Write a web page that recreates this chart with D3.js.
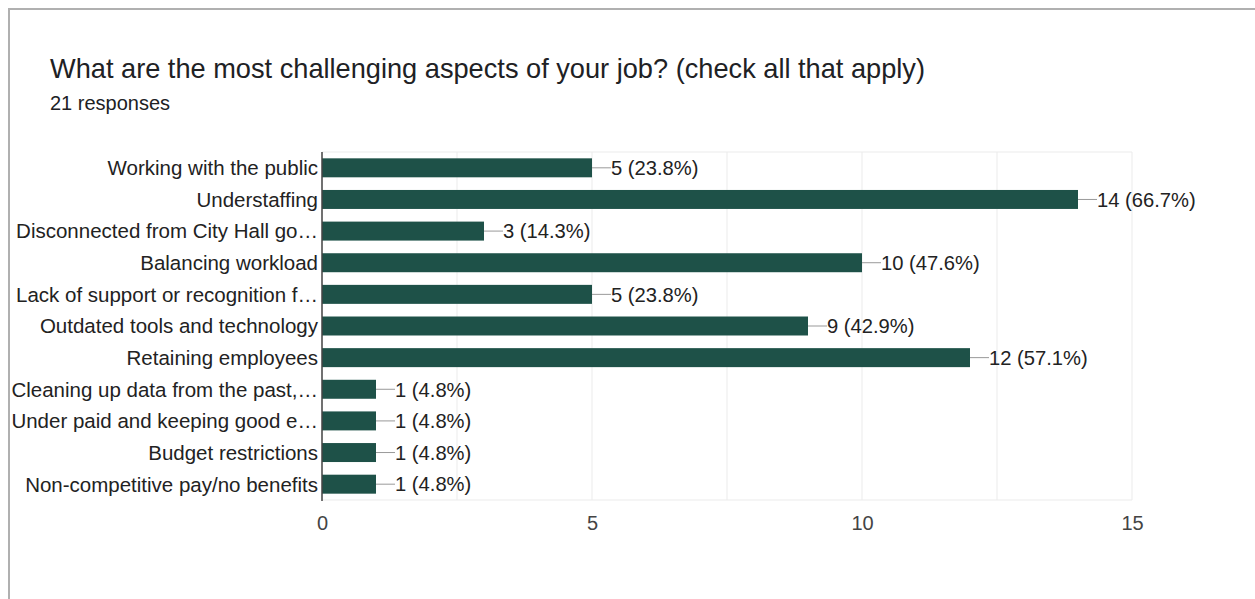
<!DOCTYPE html>
<html>
<head>
<meta charset="utf-8">
<script src="https://cdn.jsdelivr.net/npm/d3@7"></script>
<style>
  html, body { margin: 0; padding: 0; background: #fff; }
  svg { display: block; }
</style>
</head>
<body>
<svg id="chart" width="1255" height="599"></svg>
<script>
// Survey responses per challenge
const categories = [
  "Working with the public",
  "Understaffing",
  "Disconnected from City Hall go\u2026",
  "Balancing workload",
  "Lack of support or recognition f\u2026",
  "Outdated tools and technology",
  "Retaining employees",
  "Cleaning up data from the past,\u2026",
  "Under paid and keeping good e\u2026",
  "Budget restrictions",
  "Non-competitive pay/no benefits"
];
const counts = [5, 14, 3, 10, 5, 9, 12, 1, 1, 1, 1];
const percents = ["23.8%", "66.7%", "14.3%", "47.6%", "23.8%", "42.9%", "57.1%", "4.8%", "4.8%", "4.8%", "4.8%"];
const xTicks = [0, 5, 10, 15];
const gridValues = [0, 2.5, 5, 7.5, 10, 12.5, 15];

const svg = d3.select("#chart");
const font = "'Liberation Sans', Arial, Helvetica, sans-serif";

// Card outline
svg.append("path")
  .attr("d", "M9,599 V9 H1255")
  .attr("fill", "none")
  .attr("stroke", "#b0b0b0")
  .attr("stroke-width", 2);

svg.append("text")
  .attr("x", 50).attr("y", 78)
  .attr("font-family", font)
  .attr("font-size", 27.2)
  .attr("fill", "#202124")
  .text("What are the most challenging aspects of your job? (check all that apply)");

svg.append("text")
  .attr("x", 50).attr("y", 110)
  .attr("font-family", font)
  .attr("font-size", 20)
  .attr("fill", "#202124")
  .text("21 responses");

const plotLeft = 322, plotRight = 1132, plotTop = 152, plotBottom = 500;

const x = d3.scaleLinear().domain([0, 15]).range([plotLeft, plotRight]);
const y = d3.scaleBand().domain(categories).range([plotTop, plotBottom]).paddingInner(0.4).paddingOuter(0.2);

// Grid
svg.append("g").selectAll("line")
  .data(gridValues)
  .join("line")
  .attr("x1", d => x(d)).attr("x2", d => x(d))
  .attr("y1", plotTop).attr("y2", plotBottom)
  .attr("stroke", "#ebebeb").attr("stroke-width", 1);
svg.append("line")
  .attr("x1", plotLeft).attr("x2", plotRight)
  .attr("y1", plotTop).attr("y2", plotTop)
  .attr("stroke", "#ebebeb");
svg.append("line")
  .attr("x1", plotLeft).attr("x2", plotRight)
  .attr("y1", plotBottom).attr("y2", plotBottom)
  .attr("stroke", "#ebebeb");

// Bars
svg.append("g").selectAll("rect")
  .data(categories)
  .join("rect")
  .attr("x", x(0))
  .attr("y", d => y(d))
  .attr("width", (d, i) => x(counts[i]) - x(0))
  .attr("height", y.bandwidth())
  .attr("fill", "#1e5148");

// Leader lines and value labels
const lab = svg.append("g");
lab.selectAll("line")
  .data(categories)
  .join("line")
  .attr("x1", (d, i) => x(counts[i]))
  .attr("x2", (d, i) => x(counts[i]) + 19)
  .attr("y1", d => y(d) + y.bandwidth() / 2)
  .attr("y2", d => y(d) + y.bandwidth() / 2)
  .attr("stroke", "#999").attr("stroke-width", 1);
lab.selectAll("text")
  .data(categories)
  .join("text")
  .attr("x", (d, i) => x(counts[i]) + 19)
  .attr("y", d => y(d) + y.bandwidth() / 2)
  .attr("dy", "0.36em")
  .attr("font-family", font)
  .attr("font-size", 20.2)
  .attr("fill", "#222")
  .text((d, i) => `${counts[i]} (${percents[i]})`);

// Category axis
const yAxis = svg.append("g")
  .attr("transform", `translate(${plotLeft},0)`)
  .call(d3.axisLeft(y).tickSize(0).tickPadding(4));
yAxis.select(".domain").remove();
yAxis.selectAll("text")
  .attr("dy", "0.36em")
  .attr("font-family", font)
  .attr("font-size", 20.5)
  .attr("fill", "#222");
svg.append("line")
  .attr("x1", plotLeft).attr("x2", plotLeft)
  .attr("y1", plotTop).attr("y2", plotBottom + 1)
  .attr("stroke", "#444").attr("stroke-width", 1.5);

// Value axis
const xAxis = svg.append("g")
  .attr("transform", `translate(0,${plotBottom})`)
  .call(d3.axisBottom(x).tickValues(xTicks).tickSize(0).tickPadding(16).tickFormat(d3.format("d")));
xAxis.select(".domain").remove();
xAxis.selectAll("text")
  .attr("font-family", font)
  .attr("font-size", 20)
  .attr("fill", "#444");
</script>
</body>
</html>
